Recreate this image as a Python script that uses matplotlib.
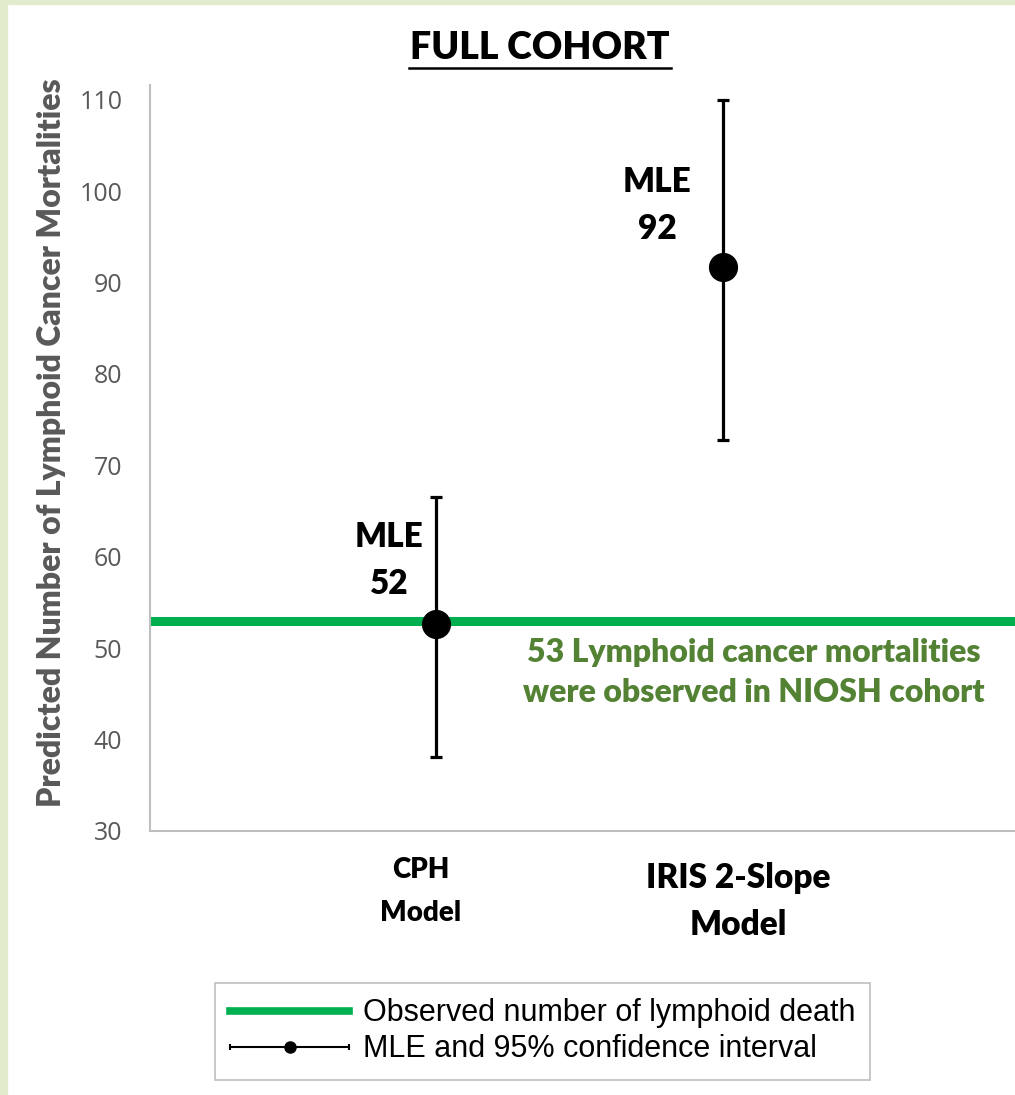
import numpy as np
import matplotlib
matplotlib.use("Agg")
import matplotlib.pyplot as plt
from matplotlib.lines import Line2D
from matplotlib.patches import Rectangle
from matplotlib.legend_handler import HandlerLine2D, HandlerTuple
import matplotlib.transforms as mtransforms

# data
models = ["CPH\nModel", "IRIS 2-Slope\nModel"]
mle = [52.6, 91.7]
ci_low = [38.1, 72.8]
ci_high = [66.5, 110.0]
observed = 53
mle_labels = ["MLE\n52", "MLE\n92"]

W, H = 1015, 1095
fig = plt.figure(figsize=(W / 100, H / 100), dpi=100)

# light green frame on left and top
fig.patches.append(Rectangle((0, 0), 7 / W, 1, transform=fig.transFigure, color="#E2EBCB", zorder=0))
fig.patches.append(Rectangle((0, 1 - 4 / H), 1, 4 / H, transform=fig.transFigure, color="#E2EBCB", zorder=0))

ax = fig.add_axes([150 / W, 1 - 831 / H, (1015 - 150) / W, (831 - 85) / H])

x = np.arange(len(models))
ax.axhline(observed, color="#00B050", lw=6.5, zorder=1)
yerr = [np.array(mle) - np.array(ci_low), np.array(ci_high) - np.array(mle)]
ax.errorbar(x, mle, yerr=yerr, fmt="o", color="black", ms=20, elinewidth=2.3,
            capsize=4.5, capthick=2.3, zorder=3)

ax.set_xlim(-1, 2.02)
ax.set_ylim(30, 111.6)
ax.set_yticks(np.arange(30, 111, 10))

for s in ["top", "right"]:
    ax.spines[s].set_visible(False)
for s in ["left", "bottom"]:
    ax.spines[s].set_color("#BFBFBF")
    ax.spines[s].set_linewidth(1.5)

ax.tick_params(axis="y", length=0, pad=20, labelsize=18, labelcolor="#595959")
for lab in ax.get_yticklabels():
    lab.set_fontfamily("Open Sans")

ax.set_xticks(x, models)
ax.tick_params(axis="x", length=0, pad=22)
xl = ax.get_xticklabels()
sizes = [20, 24]
spacing = [1.85, 1.6]
offsets = [(-16, 5), (15, 0)]
for lab, fs, ls, (dx, dy) in zip(xl, sizes, spacing, offsets):
    lab.set_fontsize(fs)
    lab.set_fontfamily("Lato")
    lab.set_fontweight("heavy")
    lab.set_linespacing(ls)
    lab.set_transform(lab.get_transform() + mtransforms.ScaledTranslation(dx / 100, dy / 100, fig.dpi_scale_trans))

ax.set_ylabel("Predicted Number of Lymphoid Cancer Mortalities", fontsize=23, fontweight="heavy",
              color="#595959", family="Lato")
ax.yaxis.set_label_coords(-84 / 865, 0.52)

# MLE labels left of each point
ax.text(x[0] - 0.165, 59.6, mle_labels[0], ha="center", va="center", fontsize=24,
        fontweight="heavy", family="Lato", linespacing=1.6)
ax.text(x[1] - 0.23, 98.4, mle_labels[1], ha="center", va="center", fontsize=24,
        fontweight="heavy", family="Lato", linespacing=1.6)

ax.text(1.109, 47.3, "53 Lymphoid cancer mortalities\nwere observed in NIOSH cohort",
        ha="center", va="center", fontsize=23, fontweight="heavy", family="Lato",
        color="#548235", linespacing=1.45)

# title with underline
fig.text(540 / W, 1 - 48 / H, "FULL COHORT", ha="center", va="center", fontsize=27,
         fontweight="heavy", family="Lato")
fig.add_artist(Line2D([409 / W, 671 / W], [1 - 68 / H, 1 - 68 / H], color="black", lw=1.8,
                      transform=fig.transFigure))

# legend: green line + errorbar-like handle (line with end ticks and a dot)
green = Line2D([], [], color="#00B050", lw=5.5)
caps = Line2D([], [], color="black", lw=1.5, marker="|", ms=5, mew=1.5)
dot = Line2D([], [], color="black", lw=0, marker="o", ms=8)
leg = fig.legend([green, (caps, dot)],
                 ["Observed number of lymphoid death", "MLE and 95% confidence interval"],
                 handler_map={caps: HandlerLine2D(numpoints=2, marker_pad=0),
                              tuple: HandlerTuple(ndivide=1)},
                 loc="upper left", bbox_to_anchor=(215 / W, 1 - 983 / H),
                 prop={"family": "Liberation Sans", "size": 22}, numpoints=1,
                 handlelength=3.9, handletextpad=0.43, labelspacing=0.2, borderpad=0.5,
                 borderaxespad=0, fancybox=False, edgecolor="#BFBFBF", framealpha=1)
leg.get_frame().set_linewidth(1.2)

fig.savefig("out.png", dpi=100)
